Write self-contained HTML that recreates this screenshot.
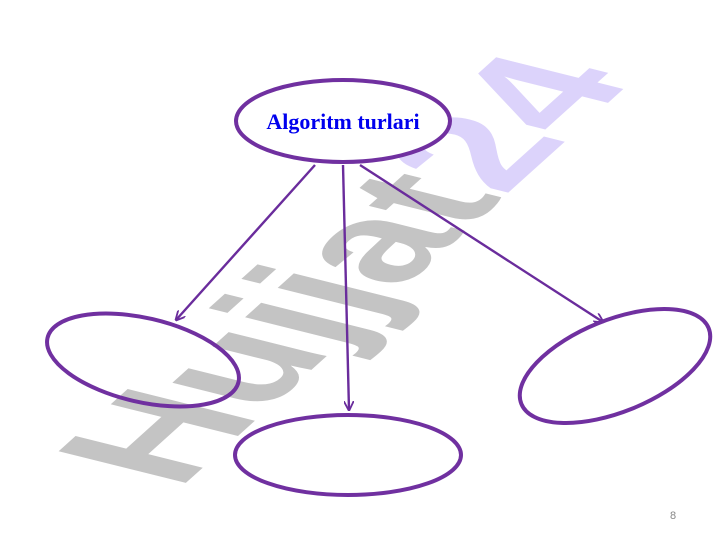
<!DOCTYPE html>
<html><head><style>
html,body{margin:0;padding:0;background:#fff;}
svg{display:block;}
</style></head><body>
<svg width="720" height="540" viewBox="0 0 720 540" xmlns="http://www.w3.org/2000/svg">
<defs>
<marker id="ah" viewBox="0 0 10 10" refX="9" refY="5" markerWidth="10" markerHeight="10" orient="auto" markerUnits="userSpaceOnUse">
<path d="M0,0 L10,5 L0,10" fill="none" stroke="#6a2c9c" stroke-width="1.8"/>
</marker>
</defs>
<g transform="translate(178,490) rotate(-42) skewX(34)">
<text x="0" y="0" font-family="Liberation Sans, sans-serif" font-weight="bold" font-size="158" fill="#c4c4c4">Hujjat<tspan fill="#dcd3fb">24</tspan></text>
</g>
<g fill="none" stroke="#6a2c9c" stroke-width="2.4">
<line x1="315" y1="165" x2="176" y2="320" marker-end="url(#ah)"/>
<line x1="343" y1="165" x2="349" y2="410" marker-end="url(#ah)"/>
<line x1="360" y1="165" x2="603" y2="322" marker-end="url(#ah)"/>
</g>
<g fill="none" stroke="#7030a0" stroke-width="4">
<ellipse cx="343" cy="121" rx="107" ry="41" fill="#fff"/>
<ellipse cx="143" cy="360" rx="98" ry="42" transform="rotate(13 143 360)"/>
<ellipse cx="348" cy="455" rx="113" ry="40"/>
<ellipse cx="615" cy="366" rx="101" ry="46" transform="rotate(-22 615 366)"/>
</g>
<text x="343" y="129" text-anchor="middle" font-family="Liberation Serif, serif" font-weight="bold" font-size="22" fill="#0000ee">Algoritm turlari</text>
<text x="673" y="519" text-anchor="middle" font-family="Liberation Sans, sans-serif" font-size="11" fill="#888">8</text>
</svg>
</body></html>
